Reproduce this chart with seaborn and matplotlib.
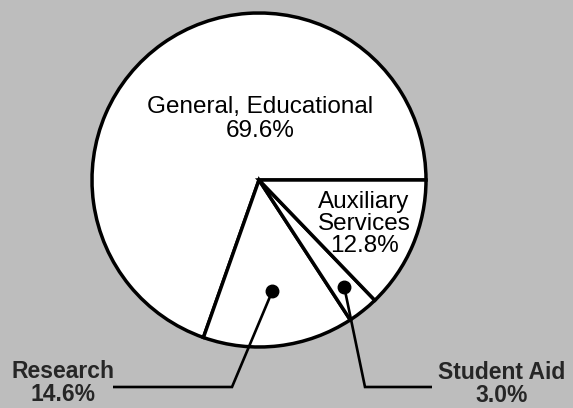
import numpy as np
import matplotlib
matplotlib.use('Agg')
import matplotlib.pyplot as plt
import seaborn as sns

# Shares of spending (percent)
categories = ['General, Educational', 'Research', 'Student Aid', 'Auxiliary Services']
shares = [69.6, 14.6, 3.0, 12.8]
inside_labels = ['General, Educational\n69.6%', None, None, 'Auxiliary\nServices\n12.8%']
outside_labels = [None, 'Research\n14.6%', 'Student Aid\n3.0%', None]

sns.set_theme(style='white')
plt.rcParams['font.family'] = ['Liberation Sans', 'DejaVu Sans']

W, H = 573, 408
BG = '#bdbdbd'
fig = plt.figure(figsize=(W / 100, H / 100), dpi=100, facecolor=BG)
ax = fig.add_axes([0, 0, 1, 1])
ax.set_facecolor(BG)

cx, cy, r = 259, 228, 167
wedges, _ = ax.pie(shares, startangle=0, counterclock=True, center=(cx, cy), radius=r,
                   colors=['white'] * len(shares),
                   wedgeprops=dict(edgecolor='black', linewidth=2.5))
ax.set_xlim(0, W)
ax.set_ylim(0, H)
ax.set_aspect('equal')
ax.axis('off')

# labels inside the big slices
ax.text(260, H - 119, inside_labels[0], ha='center', va='center',
        fontsize=17.5, linespacing=1.15, color='black')
ax.text(364, H - 224, inside_labels[3], ha='center', va='center',
        fontsize=17.5, linespacing=1.0, color='black')


def leader(wedge, frac, elbow_x, end_x, y):
    a = np.deg2rad((wedge.theta1 + wedge.theta2) / 2)
    dx = cx + frac * r * np.cos(a)
    dy = cy + frac * r * np.sin(a)
    ax.plot([dx, elbow_x, end_x], [dy, y, y], color='black', lw=1.9,
            solid_joinstyle='miter', solid_capstyle='butt')
    ax.plot(dx, dy, 'o', ms=9, color='black')


# small slices: dot + leader line out to a bold label
leader(wedges[1], 0.67, 232, 113, H - 387)
leader(wedges[2], 0.82, 365, 432, H - 387)
ax.text(63, H - 383, outside_labels[1], ha='center', va='center',
        fontsize=16.5, fontweight='bold', linespacing=1.05)
ax.text(502, H - 384, outside_labels[2], ha='center', va='center',
        fontsize=16.5, fontweight='bold', linespacing=1.05)

fig.savefig('out.png', dpi=100, facecolor=BG)
